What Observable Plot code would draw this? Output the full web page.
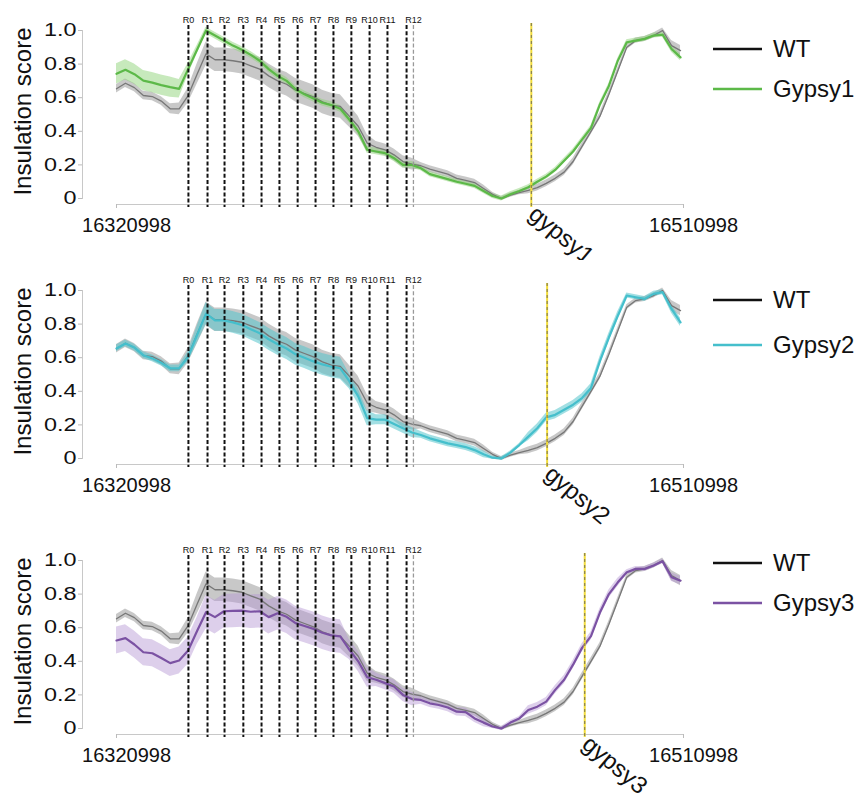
<!DOCTYPE html>
<html><head><meta charset="utf-8">
<script src="https://cdn.jsdelivr.net/npm/d3@7"></script>
<script src="https://cdn.jsdelivr.net/npm/@observablehq/plot@0.6"></script>
<style>
body{margin:0;background:#fff;font-family:"Liberation Sans",Arial,sans-serif;}
.panel{position:relative;width:857px;overflow:visible;}
.legrow{position:absolute;left:713px;height:30px;display:flex;align-items:center;font-size:24px;color:#111;}
.legrow svg{margin-right:11px;}
</style></head>
<body><div id="root"></div>
<script>
// genomic window
const xStart = 16320998, xEnd = 16510998, binSize = 3000;
const bins = d3.range(64).map(i => xStart + i * binSize);

// insulation scores (mean) per bin
const wt = [0.653,0.686,0.66,0.613,0.607,0.58,0.534,0.534,0.613,0.74,0.861,0.826,0.826,0.82,0.811,0.79,0.77,0.73,0.70,0.68,0.645,0.625,0.605,0.575,0.556,0.548,0.49,0.43,0.33,0.305,0.29,0.26,0.22,0.205,0.195,0.175,0.16,0.145,0.12,0.108,0.095,0.06,0.025,0.0,0.02,0.035,0.048,0.065,0.09,0.12,0.157,0.22,0.31,0.40,0.49,0.62,0.76,0.90,0.94,0.95,0.97,1.0,0.91,0.88];
const gypsy1 = [0.742,0.766,0.74,0.702,0.69,0.675,0.663,0.653,0.77,0.885,1.0,0.97,0.94,0.91,0.885,0.855,0.82,0.77,0.73,0.70,0.65,0.62,0.595,0.57,0.556,0.534,0.47,0.40,0.29,0.28,0.27,0.24,0.20,0.20,0.18,0.145,0.13,0.115,0.10,0.088,0.075,0.045,0.015,0.0,0.025,0.045,0.067,0.10,0.13,0.17,0.225,0.28,0.35,0.42,0.56,0.67,0.82,0.93,0.94,0.95,0.97,0.975,0.89,0.84];
const gypsy2 = [0.655,0.685,0.66,0.615,0.596,0.57,0.537,0.537,0.605,0.735,0.862,0.822,0.822,0.81,0.795,0.77,0.745,0.71,0.68,0.655,0.62,0.60,0.578,0.56,0.546,0.537,0.46,0.37,0.24,0.231,0.231,0.205,0.18,0.155,0.14,0.12,0.105,0.09,0.08,0.068,0.05,0.025,0.005,0.0,0.035,0.08,0.13,0.18,0.245,0.26,0.29,0.32,0.36,0.42,0.58,0.72,0.85,0.97,0.96,0.95,0.98,0.99,0.89,0.81];
const gypsy3 = [0.524,0.538,0.50,0.454,0.448,0.42,0.389,0.405,0.464,0.58,0.692,0.663,0.698,0.70,0.702,0.695,0.698,0.663,0.686,0.665,0.627,0.61,0.593,0.57,0.554,0.548,0.47,0.40,0.305,0.29,0.27,0.25,0.20,0.175,0.17,0.15,0.14,0.125,0.10,0.097,0.06,0.035,0.012,0.0,0.035,0.06,0.11,0.13,0.16,0.23,0.29,0.38,0.48,0.55,0.69,0.80,0.87,0.93,0.95,0.95,0.97,0.995,0.90,0.88];

// band half-widths per bin
const wtSd = [0.025,0.025,0.025,0.025,0.025,0.025,0.03,0.035,0.045,0.06,0.07,0.07,0.07,0.07,0.07,0.07,0.07,0.07,0.07,0.07,0.07,0.07,0.07,0.07,0.07,0.07,0.065,0.06,0.05,0.035,0.035,0.035,0.035,0.035,0.02,0.02,0.02,0.02,0.02,0.02,0.02,0.02,0.012,0.012,0.012,0.012,0.02,0.02,0.02,0.02,0.02,0.02,0.02,0.02,0.02,0.02,0.02,0.015,0.015,0.015,0.015,0.015,0.03,0.03];
const gypsy1Sd = [0.06,0.06,0.06,0.06,0.06,0.06,0.06,0.055,0.035,0.025,0.02,0.02,0.02,0.02,0.02,0.02,0.02,0.02,0.02,0.02,0.02,0.02,0.02,0.02,0.02,0.02,0.02,0.02,0.02,0.02,0.02,0.02,0.02,0.02,0.015,0.015,0.015,0.015,0.015,0.015,0.015,0.015,0.015,0.015,0.015,0.015,0.015,0.015,0.015,0.015,0.015,0.015,0.015,0.015,0.015,0.015,0.015,0.015,0.015,0.015,0.015,0.015,0.02,0.02];
const gypsy2Sd = [0.02,0.02,0.02,0.02,0.02,0.02,0.02,0.02,0.03,0.05,0.065,0.065,0.065,0.065,0.065,0.065,0.065,0.065,0.065,0.065,0.065,0.065,0.065,0.065,0.065,0.065,0.045,0.045,0.045,0.03,0.03,0.03,0.03,0.03,0.02,0.02,0.02,0.02,0.02,0.02,0.02,0.02,0.01,0.01,0.01,0.01,0.025,0.025,0.025,0.025,0.025,0.025,0.025,0.025,0.025,0.025,0.025,0.015,0.015,0.015,0.015,0.015,0.025,0.025];
const gypsy3Sd = [0.08,0.08,0.08,0.08,0.08,0.08,0.08,0.08,0.08,0.08,0.1,0.1,0.1,0.1,0.1,0.1,0.1,0.1,0.1,0.1,0.1,0.1,0.1,0.1,0.1,0.1,0.06,0.06,0.06,0.04,0.04,0.04,0.04,0.04,0.025,0.025,0.025,0.025,0.025,0.025,0.025,0.025,0.012,0.012,0.012,0.012,0.025,0.025,0.025,0.025,0.025,0.025,0.025,0.025,0.025,0.025,0.025,0.015,0.015,0.015,0.015,0.015,0.025,0.025];

// region boundaries
const regionNames = ["R0","R1","R2","R3","R4","R5","R6","R7","R8","R9","R10","R11","R12"];
const regionPos = [16345100,16351500,16357200,16363500,16369600,16375600,16381700,16387700,16393700,16399700,16405800,16411800,16420500];
const extraBoundary = [16418200];

// insertion sites
const insertNames = ["gypsy1","gypsy2","gypsy3"];
const insertPos = [16460000,16465300,16477900];

const seriesNames = ["Gypsy1","Gypsy2","Gypsy3"];
const seriesValues = [gypsy1, gypsy2, gypsy3];
const seriesSd = [gypsy1Sd, gypsy2Sd, gypsy3Sd];
const lineColors = ["#5cb948","#45bfcc","#7b52a3"];
const bandColors = ["#8fd47a","#55c4cc","#b495d2"];
const bandOpacity = [0.5,0.55,0.45];
const panelHeights = [260,270,275];
const legendCenters = [[49,89],[40,85],[33,73]];

const root = document.getElementById("root");
const font = "Liberation Sans, Arial, sans-serif";
const regions = regionNames.map((n, i) => ({name: n, pos: regionPos[i]}));
const dash = {strokeDasharray: "4,2.2", insetTop: -5, insetBottom: -3};

seriesNames.forEach((name, p) => {
  const H = panelHeights[p];
  const data = bins.map((x, i) => ({x, wt: wt[i], wtSd: wtSd[i], g: seriesValues[p][i], gSd: seriesSd[p][i]}));
  const svg = Plot.plot({
    width: 857, height: H,
    marginLeft: 82, marginRight: 174, marginTop: 30, marginBottom: H - 204,
    x: {domain: [xStart, xEnd], insetLeft: 34},
    y: {domain: [0, 1], insetBottom: 6},
    style: {fontFamily: font, background: "white", overflow: "visible", color: "#111"},
    marks: [
      Plot.frame({anchor: "left", stroke: "#c8c8c8", insetBottom: 6}),
      Plot.ruleY([0], {x1: xStart, x2: xEnd, dy: 6, stroke: "#c8c8c8", strokeWidth: 1.2}),
      Plot.axisY({ticks: [0, 0.2, 0.4, 0.6, 0.8, 1], tickFormat: d => d === 0 ? "0" : d.toFixed(1),
        tickSize: 4, tickPadding: 2, fontSize: 18, stroke: "#bbb", fill: "#111", label: null}),
      Plot.axisX({ticks: [xStart, xEnd], tickFormat: () => "", tickSize: 4, stroke: "#bbb", label: null}),
      Plot.axisX({ticks: [xStart, xEnd], tickFormat: d3.format("d"), tickSize: 0, tickPadding: 13,
        fontSize: 20, dx: 10, fill: "#111", label: null}),
      Plot.text(["Insulation score"], {frameAnchor: "left", rotate: -90, dx: -59, dy: -6,
        fontSize: 24, textAnchor: "middle", lineAnchor: "middle", fill: "#111"}),
      Plot.areaY(data, {x: "x", y1: d => d.wt - d.wtSd, y2: d => d.wt + d.wtSd, fill: "#b0b0b0", fillOpacity: 0.7}),
      Plot.areaY(data, {x: "x", y1: d => d.g - d.gSd, y2: d => d.g + d.gSd, fill: bandColors[p], fillOpacity: bandOpacity[p]}),
      Plot.line(data, {x: "x", y: "wt", stroke: "#777", strokeWidth: 1.3}),
      Plot.line(data, {x: "x", y: "g", stroke: lineColors[p], strokeWidth: 2.2}),
      Plot.ruleX(regions.slice(0, 12), {x: "pos", stroke: "#111", strokeWidth: 2, ...dash}),
      Plot.ruleX(extraBoundary, {stroke: "#111", strokeWidth: 2, ...dash}),
      Plot.ruleX(regions.slice(12), {x: "pos", stroke: "#999", strokeWidth: 1.3, ...dash}),
      Plot.text(regions, {x: "pos", text: "name", frameAnchor: "top", dy: -8, lineAnchor: "bottom", fontSize: 9, fill: "#111"}),
      Plot.ruleX([insertPos[p]], {stroke: "#f2dc3a", strokeWidth: 2, insetTop: -7, insetBottom: -3}),
      Plot.ruleX([insertPos[p]], {stroke: "#555", strokeWidth: 0.8, strokeDasharray: "3,3", insetTop: -7, insetBottom: -3}),
      Plot.text([{x: insertPos[p], label: insertNames[p]}], {x: "x", text: "label", frameAnchor: "bottom",
        dx: -4, dy: 12, rotate: 40, textAnchor: "start", lineAnchor: "bottom", fontSize: 24, fill: "#111"})
    ]
  });
  const panel = document.createElement("div");
  panel.className = "panel";
  panel.style.height = H + "px";
  panel.appendChild(svg);
  // legend
  [["WT", "#111"], [name, lineColors[p]]].forEach(([lab, col], r) => {
    const row = document.createElement("div");
    row.className = "legrow";
    row.style.top = (legendCenters[p][r] - 15) + "px";
    row.innerHTML = `<svg width="49" height="4"><line x1="0" x2="49" y1="2" y2="2" stroke="${col}" stroke-width="2.5"/></svg><span>${lab}</span>`;
    panel.appendChild(row);
  });
  root.appendChild(panel);
  svg.querySelectorAll('g[aria-label="y-axis tick label"] text').forEach(t => {
    const w = t.getComputedTextLength();
    t.setAttribute("textLength", (w * 1.3).toFixed(1));
    t.setAttribute("lengthAdjust", "spacingAndGlyphs");
  });
});
</script></body></html>
